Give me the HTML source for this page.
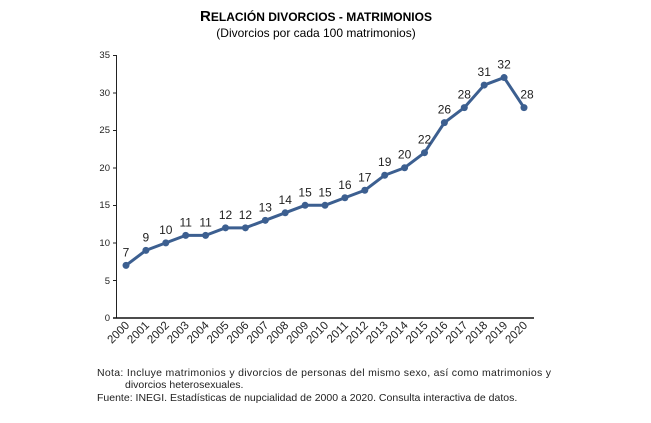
<!DOCTYPE html>
<html><head><meta charset="utf-8"><style>
body{margin:0;background:#fff;width:651px;height:418px;overflow:hidden;font-family:"Liberation Sans",Arial,sans-serif}
</style></head><body>
<svg width="651" height="418" viewBox="0 0 651 418" xmlns="http://www.w3.org/2000/svg" font-family="Liberation Sans, Arial, sans-serif">
<text x="316" y="21" text-anchor="middle" font-weight="bold" font-size="15">R<tspan font-size="12">ELACIÓN DIVORCIOS - MATRIMONIOS</tspan></text>
<text x="316" y="37" text-anchor="middle" font-size="12">(Divorcios por cada 100 matrimonios)</text>
<g font-size="9.5" fill="#222" text-anchor="end">
<text x="110" y="58">35</text><text x="110" y="96">30</text><text x="110" y="133">25</text><text x="110" y="171">20</text><text x="110" y="208">15</text><text x="110" y="246">10</text><text x="110" y="284">5</text><text x="110" y="321">0</text>
</g>
<g stroke="#222" stroke-width="1">
<line x1="116.5" y1="55" x2="116.5" y2="318"/>
<line x1="113" y1="55.5" x2="117" y2="55.5"/><line x1="113" y1="93" x2="117" y2="93"/><line x1="113" y1="130.5" x2="117" y2="130.5"/><line x1="113" y1="168" x2="117" y2="168"/><line x1="113" y1="205.5" x2="117" y2="205.5"/><line x1="113" y1="243" x2="117" y2="243"/><line x1="113" y1="280.5" x2="117" y2="280.5"/>
</g>
<line x1="113" y1="318" x2="534" y2="318" stroke="#111" stroke-width="1.5"/>
<g id="plot"></g>
<g font-size="11.5" fill="#222" id="xl"></g>
<g font-size="10.5" fill="#222">
<text x="97" y="376" textLength="454" lengthAdjust="spacing">Nota: Incluye matrimonios y divorcios de personas del mismo sexo, así como matrimonios y</text>
<text x="125" y="388">divorcios heterosexuales.</text>
<text x="97" y="401">Fuente: INEGI. Estadísticas de nupcialidad de 2000 a 2020. Consulta interactiva de datos.</text>
</g>
<script>
var d=[7,9,10,11,11,12,12,13,14,15,15,16,17,19,20,22,26,28,31,32,28];
var ns="http://www.w3.org/2000/svg",p=document.getElementById("plot"),xl=document.getElementById("xl");
function X(i){return 126+i*19.9}function Y(v){return 318-7.514*v}
var pts=d.map(function(v,i){return X(i)+","+Y(v)}).join(" ");
var pl=document.createElementNS(ns,"polyline");pl.setAttribute("points",pts);pl.setAttribute("fill","none");pl.setAttribute("stroke","#3c5f90");pl.setAttribute("stroke-width","3");pl.setAttribute("stroke-linejoin","round");p.appendChild(pl);
d.forEach(function(v,i){
var c=document.createElementNS(ns,"circle");c.setAttribute("cx",X(i));c.setAttribute("cy",Y(v));c.setAttribute("r","3.5");c.setAttribute("fill","#3c5f90");p.appendChild(c);
var t=document.createElementNS(ns,"text");t.setAttribute("x",X(i)+(i==20?3:0));t.setAttribute("y",Y(v)-9);t.setAttribute("text-anchor","middle");t.setAttribute("font-size","12");t.setAttribute("fill","#222");t.textContent=v;p.appendChild(t);
var l=document.createElementNS(ns,"text");var x=X(i)+4,y=326;l.setAttribute("x",x);l.setAttribute("y",y);l.setAttribute("text-anchor","end");l.setAttribute("transform","rotate(-45 "+x+" "+y+")");l.textContent=2000+i;xl.appendChild(l);
});
</script>
</svg>
</body></html>
